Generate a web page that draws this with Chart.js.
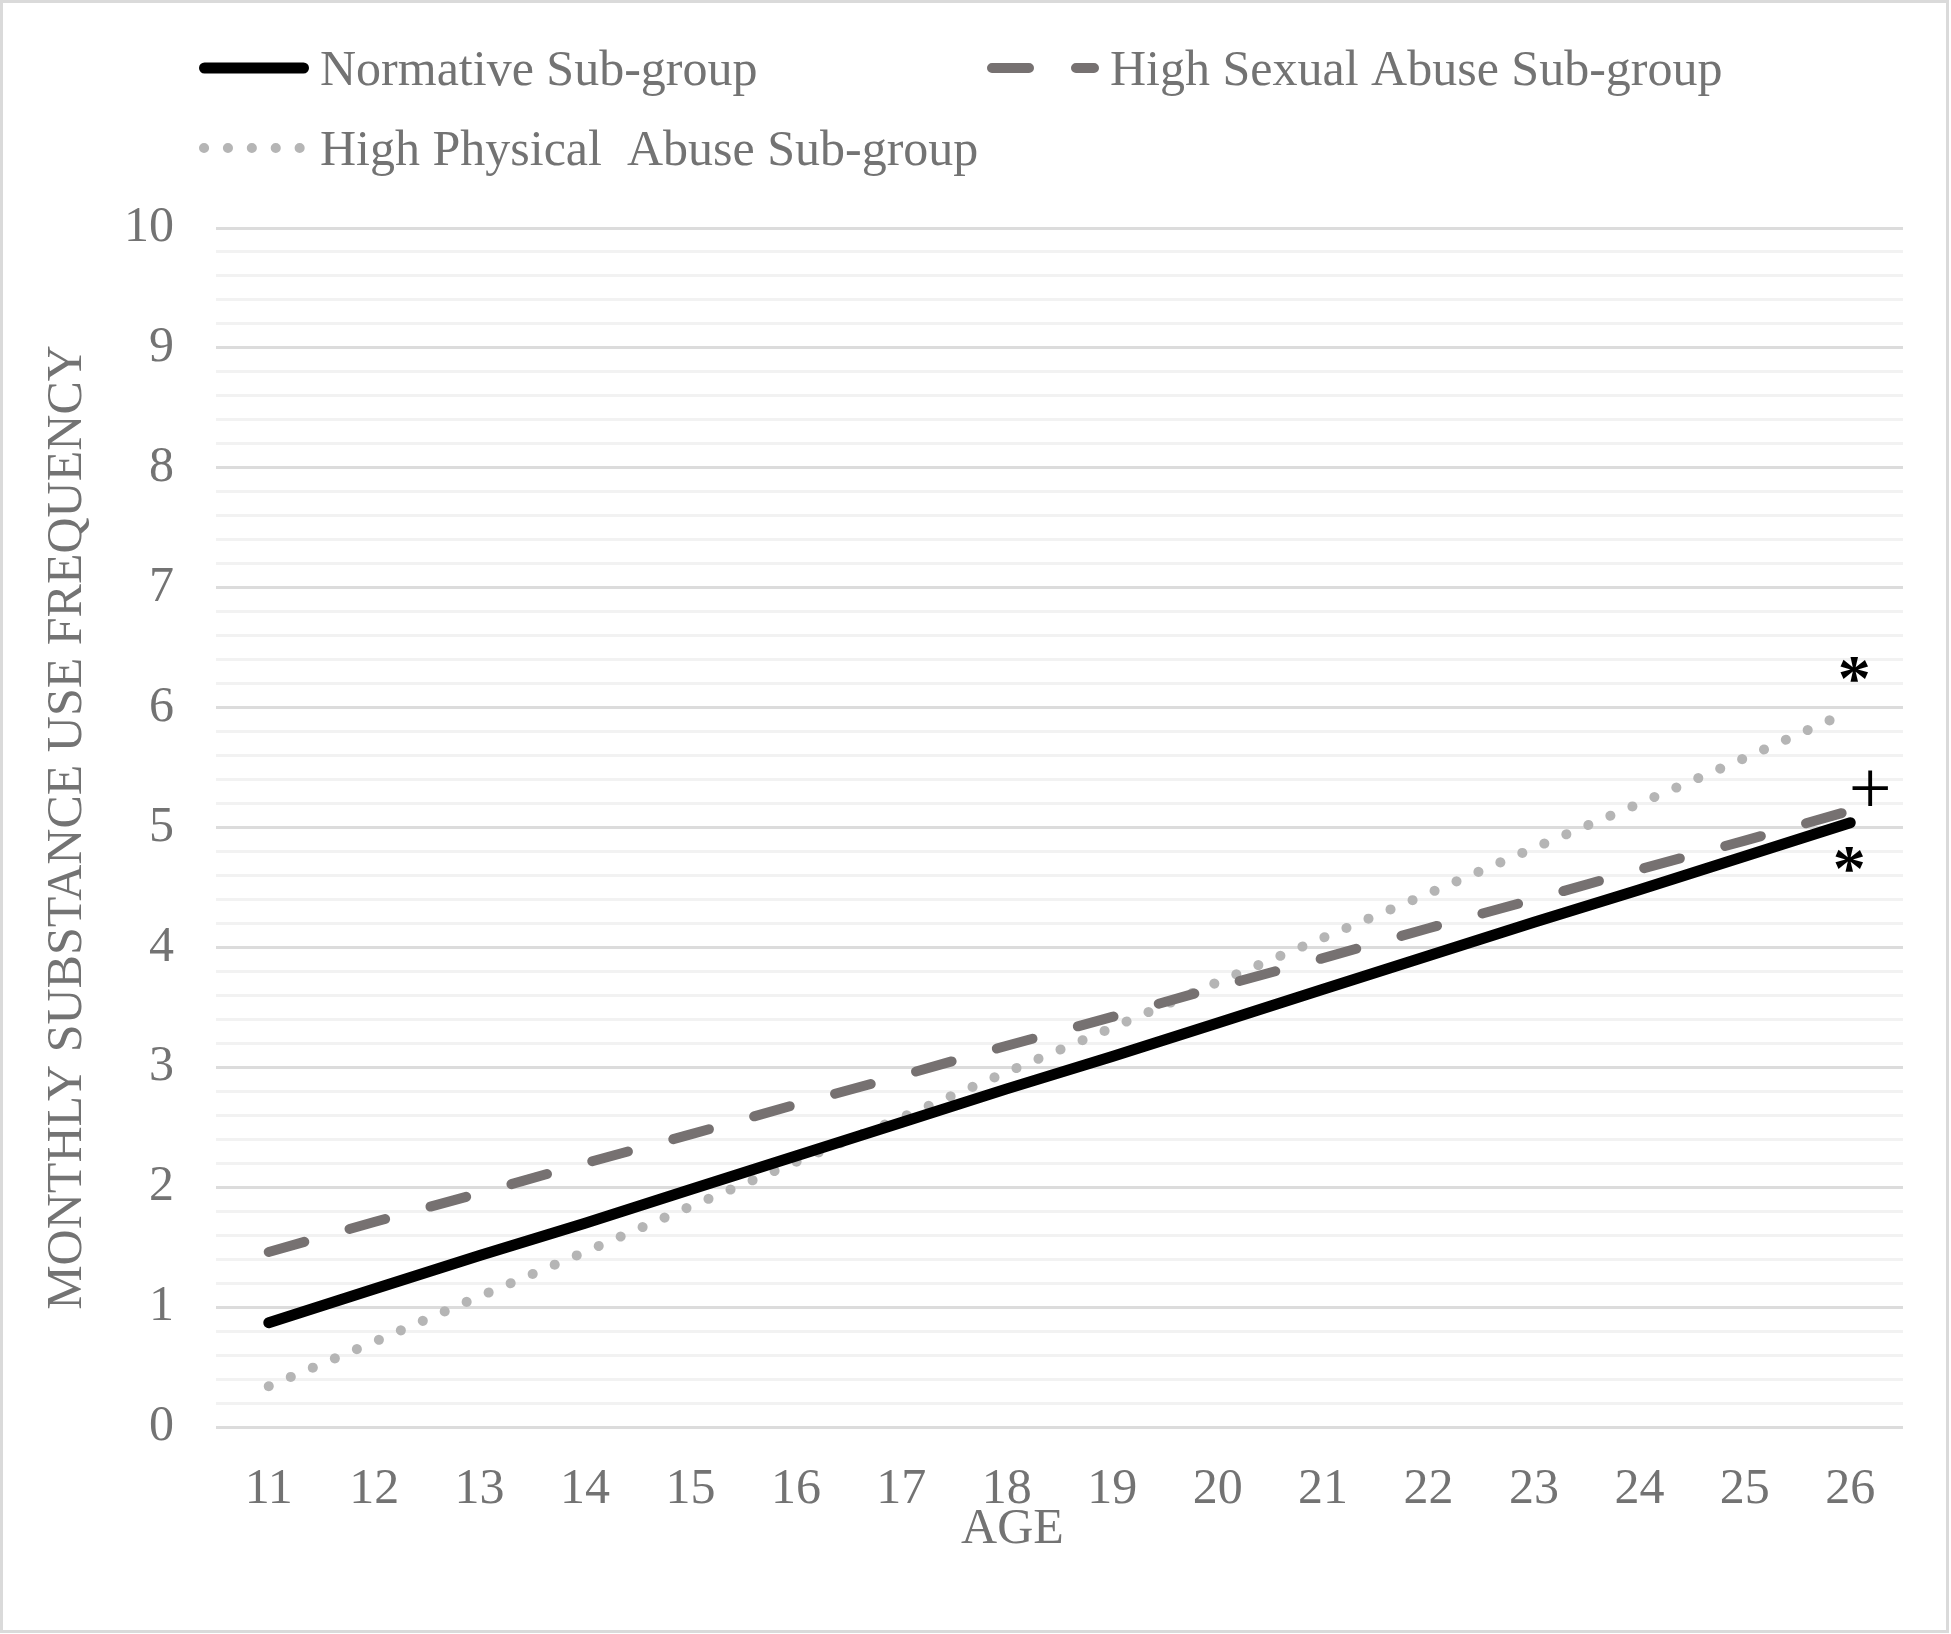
<!DOCTYPE html>
<html>
<head>
<meta charset="utf-8">
<title>Monthly substance use frequency by age</title>
<script src="https://cdn.jsdelivr.net/npm/chart.js@4.4.0/dist/chart.umd.min.js"></script>
<style>
    html, body { margin: 0; padding: 0; background: #fff; }
    canvas { display: block; }
</style>
</head>
<body>
<canvas id="trajectory-chart" width="1951" height="1634"></canvas>
<script>
// Ages on the x axis
const ages = ['11', '12', '13', '14', '15', '16', '17', '18', '19', '20', '21', '22', '23', '24', '25', '26'];

// Estimated monthly substance use frequency
const normativeValues = [0.87, 1.15, 1.43, 1.70, 1.98, 2.26, 2.54, 2.82, 3.09, 3.37, 3.65, 3.93, 4.21, 4.48, 4.76, 5.04];
const sexualAbuseValues = [1.46, 1.71, 1.95, 2.20, 2.44, 2.69, 2.93, 3.18, 3.42, 3.67, 3.91, 4.16, 4.40, 4.65, 4.89, 5.14];
const physicalAbuseValues = [0.34, 0.71, 1.09, 1.46, 1.84, 2.21, 2.58, 2.96, 3.33, 3.71, 4.08, 4.45, 4.83, 5.20, 5.58, 5.97];

const seriesLabels = ['Normative Sub-group', 'High Sexual Abuse Sub-group', 'High Physical  Abuse Sub-group'];
// Significance markers at age 26, one per series
const seriesMarks = ['*', '+', '*'];

const yTicks = { min: 0, max: 10, step: 0.2 };

const FONT = '"Liberation Serif", "Times New Roman", serif';
const FONT_SIZE = 50;
const TEXT_COLOR = '#737373';

/**
 * Background, outer frame, legend, x title and end markers
 */
const decorPlugin = {
    id: 'decor',
    beforeDraw(chart) {
        const ctx = chart.ctx;
        ctx.save();
        ctx.fillStyle = '#fff';
        ctx.fillRect(0, 0, chart.width, chart.height);
        ctx.strokeStyle = '#dadada';
        ctx.lineWidth = 3;
        ctx.strokeRect(1.5, 1.5, chart.width - 5, chart.height - 4);
        ctx.restore();
    },
    afterDraw(chart) {
        const ctx = chart.ctx;
        const sets = chart.data.datasets;

        // legend: two items on the first row, one on the second
        const slots = [
            { x: 199, y: 68, len: 110, textX: 320 },
            { x: 987, y: 68, len: 112, textX: 1110 },
            { x: 199, y: 148, len: 107, textX: 320 }
        ];
        ctx.save();
        sets.forEach((ds, i) => {
            const s = slots[i];
            const w = ds.borderWidth;
            ctx.strokeStyle = ds.borderColor;
            ctx.lineWidth = w;
            ctx.lineCap = 'round';
            ctx.setLineDash(ds.borderDash || []);
            ctx.beginPath();
            ctx.moveTo(s.x + w / 2, s.y);
            ctx.lineTo(s.x + s.len - w / 2, s.y);
            ctx.stroke();
            ctx.setLineDash([]);
            ctx.fillStyle = TEXT_COLOR;
            ctx.font = FONT_SIZE + 'px ' + FONT;
            ctx.textAlign = 'left';
            ctx.textBaseline = 'alphabetic';
            ctx.fillText(ds.label, s.textX, s.y + 17);
        });

        // x axis title sits under age 18 in the original
        const area = chart.chartArea;
        ctx.fillStyle = TEXT_COLOR;
        ctx.font = FONT_SIZE + 'px ' + FONT;
        ctx.textAlign = 'center';
        ctx.textBaseline = 'middle';
        ctx.fillText('AGE', (area.left + area.right) / 2 - 47, 1530);

        // markers at the last point of each series
        const xScale = chart.scales.x;
        const yScale = chart.scales.y;
        const last = ages.length - 1;
        const offsets = [
            { dx: -1, dy: 37, size: 66, weight: 'bold' },
            { dx: 20, dy: -23, size: 76, weight: 'normal' },
            { dx: 4, dy: -42, size: 66, weight: 'bold' }
        ];
        sets.forEach((ds, i) => {
            const o = offsets[i];
            const cx = xScale.getPixelForValue(last) + o.dx;
            const cy = yScale.getPixelForValue(ds.data[last]) + o.dy;
            drawCentered(ctx, seriesMarks[i], cx, cy, o.size, o.weight);
        });
        ctx.restore();
    }
};

function drawCentered(ctx, text, cx, cy, size, weight) {
    ctx.font = weight + ' ' + size + 'px ' + FONT;
    ctx.fillStyle = '#000';
    ctx.textAlign = 'left';
    ctx.textBaseline = 'alphabetic';
    const m = ctx.measureText(text);
    const x = cx - (m.actualBoundingBoxRight - m.actualBoundingBoxLeft) / 2;
    const y = cy - (m.actualBoundingBoxDescent - m.actualBoundingBoxAscent) / 2;
    ctx.fillText(text, x, y);
}

function isWhole(v) {
    return Math.abs(v - Math.round(v)) < 1e-6;
}

const ctx = document.getElementById('trajectory-chart');

new Chart(ctx, {
    type: 'line',
    data: {
        labels: ages,
        datasets: [{
            label: seriesLabels[0],
            data: normativeValues,
            borderColor: '#000000',
            borderWidth: 11,
            borderCapStyle: 'round',
            pointRadius: 0,
            tension: 0,
            order: 1
        }, {
            label: seriesLabels[1],
            data: sexualAbuseValues,
            borderColor: '#767171',
            borderWidth: 10,
            borderDash: [37, 47],
            borderCapStyle: 'round',
            pointRadius: 0,
            tension: 0,
            order: 2
        }, {
            label: seriesLabels[2],
            data: physicalAbuseValues,
            borderColor: '#b5b5b5',
            borderWidth: 10,
            borderDash: [0.1, 23.8],
            borderCapStyle: 'round',
            pointRadius: 0,
            tension: 0,
            order: 3
        }]
    },
    options: {
        responsive: false,
        animation: false,
        devicePixelRatio: 1,
        layout: {
            padding: { top: 228, right: 48, bottom: 0, left: 0 }
        },
        scales: {
            x: {
                type: 'category',
                offset: true,
                grid: { display: false },
                border: { display: false },
                ticks: {
                    color: TEXT_COLOR,
                    padding: 25,
                    font: { family: FONT, size: FONT_SIZE },
                    maxRotation: 0,
                    autoSkip: false
                },
                afterFit(scale) {
                    scale.height = 207;
                }
            },
            y: {
                min: yTicks.min,
                max: yTicks.max,
                border: { display: false },
                grid: {
                    drawTicks: false,
                    lineWidth: 3,
                    color: c => isWhole(c.tick.value) ? '#dcdcdc' : '#f2f2f2'
                },
                ticks: {
                    stepSize: yTicks.step,
                    autoSkip: false,
                    padding: 42,
                    color: TEXT_COLOR,
                    font: { family: FONT, size: FONT_SIZE },
                    callback: v => isWhole(v) ? String(Math.round(v)) : ''
                },
                title: {
                    display: true,
                    text: 'MONTHLY SUBSTANCE USE FREQUENCY',
                    color: TEXT_COLOR,
                    font: { family: FONT, size: FONT_SIZE },
                    padding: { top: 38, bottom: 0 }
                },
                afterFit(scale) {
                    scale.width = 216;
                }
            }
        },
        plugins: {
            legend: { display: false },
            tooltip: { enabled: false }
        }
    },
    plugins: [decorPlugin]
});
</script>
</body>
</html>
